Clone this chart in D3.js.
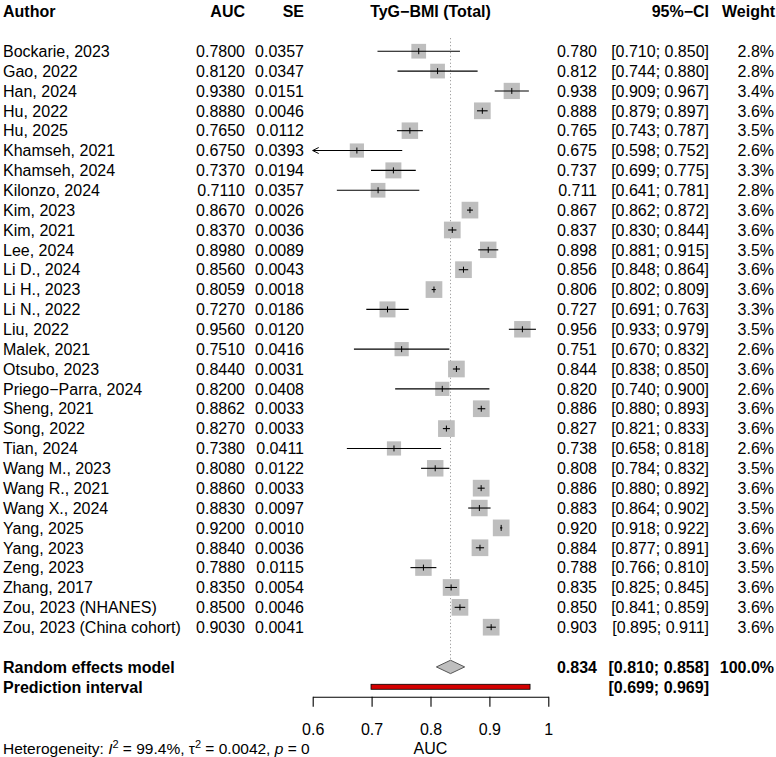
<!DOCTYPE html>
<html>
<head>
<meta charset="utf-8">
<script src="https://cdn.jsdelivr.net/npm/d3@7"></script>
<style>
  body { margin: 0; background: #fff; }
  text { font-family: "Liberation Sans", Arial, Helvetica, sans-serif; fill: #000; }
</style>
</head>
<body>
<div id="graph"></div>
<script>

var authors = ["Bockarie, 2023", "Gao, 2022", "Han, 2024", "Hu, 2022", "Hu, 2025",
  "Khamseh, 2021", "Khamseh, 2024", "Kilonzo, 2024", "Kim, 2023", "Kim, 2021",
  "Lee, 2024", "Li D., 2024", "Li H., 2023", "Li N., 2022", "Liu, 2022",
  "Malek, 2021", "Otsubo, 2023", "Priego\u2212Parra, 2024", "Sheng, 2021", "Song, 2022",
  "Tian, 2024", "Wang M., 2023", "Wang R., 2021", "Wang X., 2024", "Yang, 2025",
  "Yang, 2023", "Zeng, 2023", "Zhang, 2017", "Zou, 2023 (NHANES)", "Zou, 2023 (China cohort)"];

var auc = [0.7800, 0.8120, 0.9380, 0.8880, 0.7650, 0.6750, 0.7370, 0.7110, 0.8670, 0.8370,
  0.8980, 0.8560, 0.8059, 0.7270, 0.9560, 0.7510, 0.8440, 0.8200, 0.8862, 0.8270,
  0.7380, 0.8080, 0.8860, 0.8830, 0.9200, 0.8840, 0.7880, 0.8350, 0.8500, 0.9030];

var se = [0.0357, 0.0347, 0.0151, 0.0046, 0.0112, 0.0393, 0.0194, 0.0357, 0.0026, 0.0036,
  0.0089, 0.0043, 0.0018, 0.0186, 0.0120, 0.0416, 0.0031, 0.0408, 0.0033, 0.0033,
  0.0411, 0.0122, 0.0033, 0.0097, 0.0010, 0.0036, 0.0115, 0.0054, 0.0046, 0.0041];

var ciLow = [0.710, 0.744, 0.909, 0.879, 0.743, 0.598, 0.699, 0.641, 0.862, 0.830,
  0.881, 0.848, 0.802, 0.691, 0.933, 0.670, 0.838, 0.740, 0.880, 0.821,
  0.658, 0.784, 0.880, 0.864, 0.918, 0.877, 0.766, 0.825, 0.841, 0.895];

var ciHigh = [0.850, 0.880, 0.967, 0.897, 0.787, 0.752, 0.775, 0.781, 0.872, 0.844,
  0.915, 0.864, 0.809, 0.763, 0.979, 0.832, 0.850, 0.900, 0.893, 0.833,
  0.818, 0.832, 0.892, 0.902, 0.922, 0.891, 0.810, 0.845, 0.859, 0.911];

var weights = [2.8, 2.8, 3.4, 3.6, 3.5, 2.6, 3.3, 2.8, 3.6, 3.6,
  3.5, 3.6, 3.6, 3.3, 3.5, 2.6, 3.6, 2.6, 3.6, 3.6,
  2.6, 3.5, 3.6, 3.5, 3.6, 3.6, 3.5, 3.6, 3.6, 3.6];

var pooled = {est: 0.834, low: 0.810, high: 0.858};
var predInt = {low: 0.699, high: 0.969};
var xTicks = [0.6, 0.7, 0.8, 0.9, 1];
var xTickLabels = ["0.6", "0.7", "0.8", "0.9", "1"];

var width = 776;
var height = 757;
var fs = 16;

var svg = d3.select("#graph").append("svg")
  .attr("width", width)
  .attr("height", height);

var x = d3.scaleLinear().domain([0.6, 1]).range([312.7, 548.3]);
// row index -> vertical centre (0 = header, studies from 2)
var y = d3.scaleLinear().domain([0, 31]).range([11.5, 627.2]);
var side = d3.scaleSqrt().domain([0, 3.6]).range([0, 16.7]);

var fmt3 = d3.format(".3f");
var fmt4 = d3.format(".4f");

function addText(txt, px, py, anchor, bold, size) {
  return svg.append("text")
    .attr("x", px)
    .attr("y", py)
    .attr("dy", "0.36em")
    .attr("text-anchor", anchor)
    .attr("font-size", (size || fs) + "px")
    .attr("font-weight", bold ? "bold" : "normal")
    .text(txt);
}

// headers
addText("Author", 3, y(0), "start", true);
addText("AUC", 245, y(0), "end", true);
addText("SE", 304, y(0), "end", true);
addText("TyG\u2212BMI (Total)", (x(0.6) + x(1)) / 2, y(0), "middle", true);
addText("95%\u2212CI", 709, y(0), "end", true);
addText("Weight", 775, y(0), "end", true);

// reference line at pooled estimate
svg.append("line")
  .attr("x1", x(pooled.est)).attr("x2", x(pooled.est))
  .attr("y1", y(2) - 13).attr("y2", y(33) - 7)
  .attr("stroke", "#888")
  .attr("stroke-width", 1)
  .attr("stroke-dasharray", "1,2.5");

var rows = authors.map(function(a, i) {
  return {author: a, auc: auc[i], se: se[i], low: ciLow[i], high: ciHigh[i], w: weights[i], row: i + 2};
});

var study = svg.selectAll(".study").data(rows).enter()
  .append("g")
  .attr("class", "study");

study.append("text")
  .attr("x", 3).attr("y", function(d) { return y(d.row); })
  .attr("dy", "0.36em").attr("font-size", fs + "px")
  .text(function(d) { return d.author; });

study.append("text")
  .attr("x", 245).attr("y", function(d) { return y(d.row); })
  .attr("dy", "0.36em").attr("font-size", fs + "px").attr("text-anchor", "end")
  .text(function(d) { return fmt4(d.auc); });

study.append("text")
  .attr("x", 304).attr("y", function(d) { return y(d.row); })
  .attr("dy", "0.36em").attr("font-size", fs + "px").attr("text-anchor", "end")
  .text(function(d) { return fmt4(d.se); });

study.append("text")
  .attr("x", 597).attr("y", function(d) { return y(d.row); })
  .attr("dy", "0.36em").attr("font-size", fs + "px").attr("text-anchor", "end")
  .text(function(d) { return fmt3(d.auc); });

study.append("text")
  .attr("x", 709).attr("y", function(d) { return y(d.row); })
  .attr("dy", "0.36em").attr("font-size", fs + "px").attr("text-anchor", "end")
  .text(function(d) { return "[" + fmt3(d.low) + "; " + fmt3(d.high) + "]"; });

study.append("text")
  .attr("x", 774).attr("y", function(d) { return y(d.row); })
  .attr("dy", "0.36em").attr("font-size", fs + "px").attr("text-anchor", "end")
  .text(function(d) { return d.w.toFixed(1) + "%"; });

// squares
study.append("rect")
  .attr("x", function(d) { return x(d.auc) - side(d.w) / 2; })
  .attr("y", function(d) { return y(d.row) - side(d.w) / 2; })
  .attr("width", function(d) { return side(d.w); })
  .attr("height", function(d) { return side(d.w); })
  .attr("fill", "#bebebe");

// CI lines (clipped at axis limits)
study.append("line")
  .attr("x1", function(d) { return x(Math.max(d.low, 0.6)); })
  .attr("x2", function(d) { return x(Math.min(d.high, 1)); })
  .attr("y1", function(d) { return y(d.row); })
  .attr("y2", function(d) { return y(d.row); })
  .attr("stroke", "#000").attr("stroke-width", 1.1);

// estimate tick
study.append("line")
  .attr("x1", function(d) { return x(d.auc); })
  .attr("x2", function(d) { return x(d.auc); })
  .attr("y1", function(d) { return y(d.row) - 3; })
  .attr("y2", function(d) { return y(d.row) + 3; })
  .attr("stroke", "#000").attr("stroke-width", 1);

// arrows where CI goes beyond the axis
study.filter(function(d) { return d.low < 0.6; })
  .append("path")
  .attr("d", function(d) {
    var px = x(0.6), py = y(d.row);
    return "M" + (px + 6) + "," + (py - 3) + "L" + px + "," + py + "L" + (px + 6) + "," + (py + 3);
  })
  .attr("fill", "none").attr("stroke", "#000").attr("stroke-width", 1);

// random effects model
var yRE = y(33);
addText("Random effects model", 3, yRE, "start", true);
addText(fmt3(pooled.est), 597, yRE, "end", true);
addText("[" + fmt3(pooled.low) + "; " + fmt3(pooled.high) + "]", 709, yRE, "end", true);
addText("100.0%", 774, yRE, "end", true);

svg.append("path")
  .attr("d", "M" + x(pooled.low) + "," + yRE +
    "L" + x(pooled.est) + "," + (yRE - 6.7) +
    "L" + x(pooled.high) + "," + yRE +
    "L" + x(pooled.est) + "," + (yRE + 6.7) + "Z")
  .attr("fill", "#bebebe")
  .attr("stroke", "#555")
  .attr("stroke-width", 1);

// prediction interval
var yPI = y(34);
addText("Prediction interval", 3, yPI, "start", true);
addText("[" + fmt3(predInt.low) + "; " + fmt3(predInt.high) + "]", 709, yPI, "end", true);

svg.append("rect")
  .attr("x", x(predInt.low))
  .attr("y", yPI - 2.5)
  .attr("width", x(predInt.high) - x(predInt.low))
  .attr("height", 5)
  .attr("fill", "#d40000")
  .attr("stroke", "#000")
  .attr("stroke-width", 0.8);

// x axis
var axisY = 696.7;
var axis = svg.append("g")
  .attr("transform", "translate(0," + axisY + ")")
  .call(d3.axisBottom(x)
    .tickValues(xTicks)
    .tickFormat(function(d, i) { return xTickLabels[i]; })
    .tickSize(10)
    .tickSizeOuter(0)
    .tickPadding(17));

axis.select(".domain").attr("stroke", "#000").attr("stroke-width", 1.1);
axis.selectAll(".tick line").attr("stroke", "#000").attr("stroke-width", 1.1);
axis.selectAll(".tick text")
  .attr("font-size", fs + "px")
  .attr("font-family", "Liberation Sans, Arial, sans-serif")
  .attr("fill", "#000");

addText("AUC", (x(0.6) + x(1)) / 2, 748, "middle", false);

// heterogeneity
var het = svg.append("text")
  .attr("x", 3)
  .attr("y", 754)
  .attr("font-size", "15.5px");
het.append("tspan").text("Heterogeneity: ");
het.append("tspan").attr("font-style", "italic").text("I");
het.append("tspan").attr("font-size", "11px").attr("dy", "-6").text("2");
het.append("tspan").attr("dy", "6").text(" = 99.4%, \u03c4");
het.append("tspan").attr("font-size", "11px").attr("dy", "-6").text("2");
het.append("tspan").attr("dy", "6").text(" = 0.0042, ");
het.append("tspan").attr("font-style", "italic").text("p");
het.append("tspan").text(" = 0");

</script>
</body>
</html>
